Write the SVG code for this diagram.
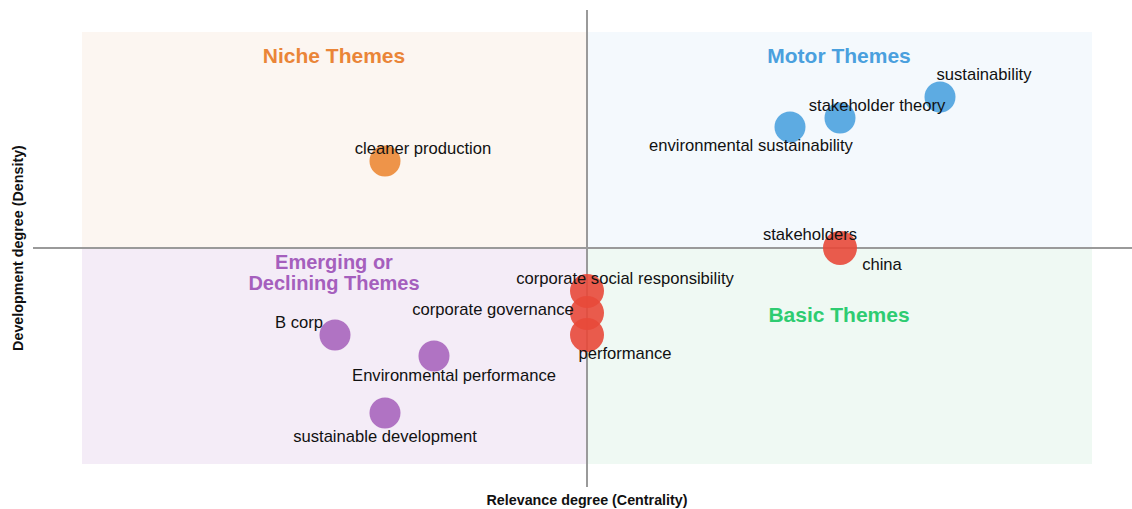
<svg xmlns="http://www.w3.org/2000/svg" width="1132" height="509" viewBox="0 0 1132 509">
<style>
.lbl{font-family:"Liberation Sans",Arial,sans-serif;font-size:16.6px;fill:#111;text-anchor:middle}
.ttl{font-family:"Liberation Sans",Arial,sans-serif;font-size:21px;font-weight:bold;text-anchor:middle}
.ttl2{font-family:"Liberation Sans",Arial,sans-serif;font-size:20px;font-weight:bold;text-anchor:middle;fill:#a55fbd}
.ax{font-family:"Liberation Sans",Arial,sans-serif;font-size:14.3px;font-weight:bold;fill:#111;text-anchor:middle}
.axis{stroke:#9a9a9a;stroke-width:2}
.pt{stroke:none;opacity:0.9}
</style>
<rect width="1132" height="509" fill="#fff"/>
<g id="quadrants">
<rect x="82" y="32" width="505" height="216" fill="#fcf6f1"/>
<rect x="587" y="32" width="505" height="216" fill="#f4f9fd"/>
<rect x="82" y="248" width="505" height="216" fill="#f4ecf7"/>
<rect x="587" y="248" width="505" height="216" fill="#eff9f3"/>
</g>
<g id="titles">
<text class="ttl" x="334" y="63" fill="#ea8538">Niche Themes</text>
<text class="ttl" x="839" y="63" fill="#4aa0de">Motor Themes</text>
<text class="ttl2" x="334" y="269">Emerging or</text>
<text class="ttl2" x="334" y="290">Declining Themes</text>
<text class="ttl" x="839" y="322" fill="#2ecc71">Basic Themes</text>
</g>
<g id="connectors">
<line class="axis" x1="587" y1="10" x2="587" y2="487"/>
<line class="axis" x1="33" y1="248" x2="1132" y2="248"/>
</g>
<g id="node-cleaner-production"><circle class="pt" cx="385" cy="161" r="15.5" fill="#ec8a36"/><text class="lbl" x="423" y="154">cleaner production</text></g>
<g id="node-sustainability"><circle class="pt" cx="940" cy="97" r="15.5" fill="#4da2df"/><text class="lbl" x="984" y="80">sustainability</text></g>
<g id="node-stakeholder-theory"><circle class="pt" cx="840" cy="118" r="15.5" fill="#4da2df"/><text class="lbl" x="877" y="111">stakeholder theory</text></g>
<g id="node-environmental-sustainability"><circle class="pt" cx="790" cy="127" r="15.5" fill="#4da2df"/><text class="lbl" x="751" y="151">environmental sustainability</text></g>
<g id="node-stakeholders"><circle class="pt" cx="840" cy="248" r="17" fill="#e8493a"/><text class="lbl" x="810" y="240">stakeholders</text></g>
<g id="node-china"><text class="lbl" x="882" y="270">china</text></g>
<g id="node-csr"><circle class="pt" cx="587" cy="291" r="17" fill="#e8493a"/><text class="lbl" x="625" y="284">corporate social responsibility</text></g>
<g id="node-corporate-governance"><circle class="pt" cx="587" cy="313" r="17" fill="#e8493a"/><text class="lbl" x="493" y="315">corporate governance</text></g>
<g id="node-performance"><circle class="pt" cx="587" cy="335" r="17" fill="#e8493a"/><text class="lbl" x="625" y="359">performance</text></g>
<g id="node-b-corp"><circle class="pt" cx="335" cy="335" r="15.5" fill="#a866bd"/><text class="lbl" x="299" y="328">B corp</text></g>
<g id="node-environmental-performance"><circle class="pt" cx="434" cy="356" r="15.5" fill="#a866bd"/><text class="lbl" x="454" y="381">Environmental performance</text></g>
<g id="node-sustainable-development"><circle class="pt" cx="385" cy="413" r="15.5" fill="#a866bd"/><text class="lbl" x="385" y="442">sustainable development</text></g>
<g id="axis-labels">
<text class="ax" x="587" y="505">Relevance degree (Centrality)</text>
<text class="ax" transform="translate(23,248) rotate(-90)">Development degree (Density)</text>
</g>
</svg>
